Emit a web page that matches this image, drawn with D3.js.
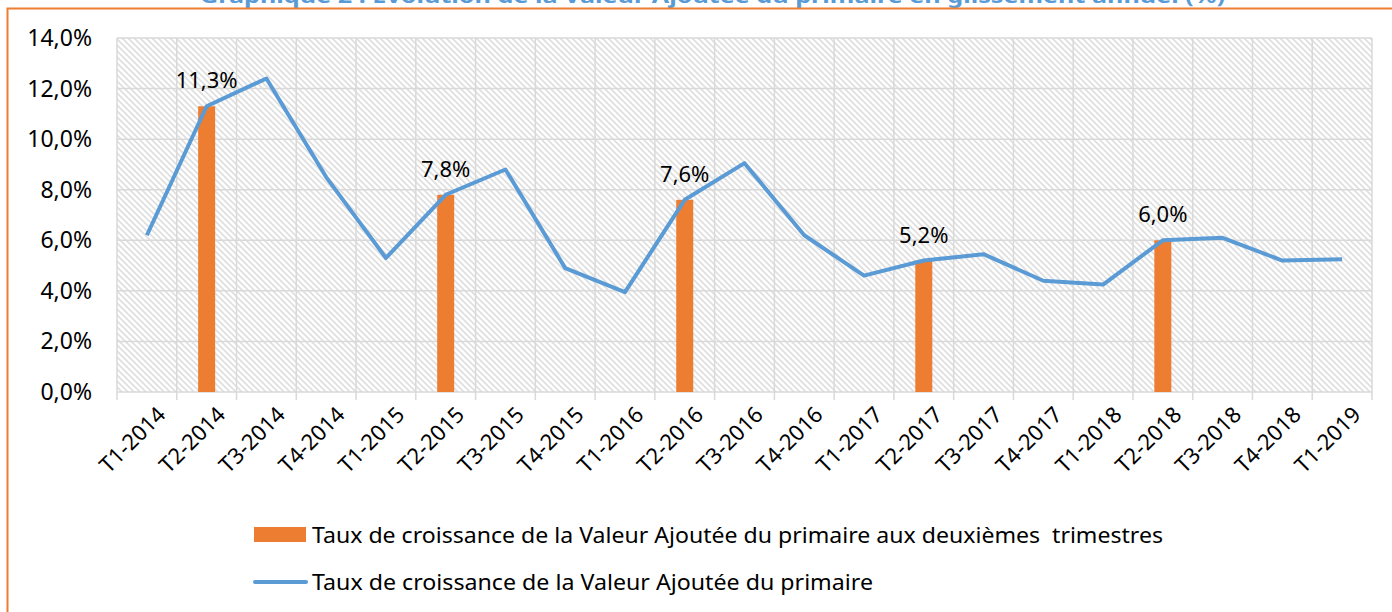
<!DOCTYPE html>
<html>
<head>
<meta charset="utf-8">
<script src="https://cdn.jsdelivr.net/npm/d3@7"></script>
<style>
  body { margin: 0; background: #fff; }
  svg { display: block; font-family: "Noto Sans", "DejaVu Sans", sans-serif; }
</style>
</head>
<body>
<script>
// Define data
const quarters = ['T1-2014', 'T2-2014', 'T3-2014', 'T4-2014', 'T1-2015', 'T2-2015', 'T3-2015',
  'T4-2015', 'T1-2016', 'T2-2016', 'T3-2016', 'T4-2016', 'T1-2017', 'T2-2017', 'T3-2017',
  'T4-2017', 'T1-2018', 'T2-2018', 'T3-2018', 'T4-2018', 'T1-2019'];
const growth = [6.2, 11.3, 12.4, 8.5, 5.3, 7.8, 8.8, 4.9, 3.95, 7.6, 9.05, 6.2, 4.6, 5.2, 5.45,
  4.4, 4.25, 6.0, 6.1, 5.2, 5.25];
const q2Quarters = ['T2-2014', 'T2-2015', 'T2-2016', 'T2-2017', 'T2-2018'];
const q2Growth = [11.3, 7.8, 7.6, 5.2, 6.0];
const yTicks = [0, 2, 4, 6, 8, 10, 12, 14];

const title = 'Graphique 2 : Evolution de la Valeur Ajoutée du primaire en glissement annuel (%)';
const legendBar = 'Taux de croissance de la Valeur Ajoutée du primaire aux deuxièmes\u00a0 trimestres';
const legendLine = 'Taux de croissance de la Valeur Ajoutée du primaire';

const width = 1392, height = 612;
const margin = { top: 38, bottom: 220, left: 117, right: 20 };
const fs = 22;

const svg = d3.select('body')
            .append('svg')
            .attr('width', width)
            .attr('height', height);

// hatched plot background
const pattern = svg.append('defs').append('pattern')
            .attr('id', 'hatch')
            .attr('patternUnits', 'userSpaceOnUse')
            .attr('width', 6)
            .attr('height', 6);
pattern.append('path')
            .attr('d', 'M-1,-1 L7,7 M-4,2 L2,8 M4,-2 L8,2')
            .attr('stroke', '#dedede')
            .attr('stroke-width', 1.6);

// frame border (orange) and the title above it, cut by the page top as in the source
svg.append('text')
            .text(title)
            .attr('x', 200)
            .attr('y', 3)
            .attr('textLength', 1025)
            .attr('lengthAdjust', 'spacingAndGlyphs')
            .attr('font-size', 20)
            .attr('font-weight', 'bold')
            .attr('fill', '#5b9bd5');
svg.append('path')
            .attr('d', `M7.5,${height + 5} L7.5,8.5 L${width + 5},8.5`)
            .attr('fill', 'none')
            .attr('stroke', '#ed7d31')
            .attr('stroke-width', 2);

const xscale = d3.scaleBand()
            .domain(quarters)
            .range([margin.left, width - margin.right]);
const yscale = d3.scaleLinear()
            .domain([0, 14])
            .range([392, margin.top]);

svg.append('rect')
            .attr('x', margin.left)
            .attr('y', margin.top)
            .attr('width', xscale.range()[1] - margin.left)
            .attr('height', yscale(0) - margin.top)
            .attr('fill', 'url(#hatch)');

// gridlines
svg.append('g')
            .selectAll('line')
            .data(yTicks)
            .enter()
            .append('line')
            .attr('x1', margin.left)
            .attr('x2', xscale.range()[1])
            .attr('y1', d => yscale(d))
            .attr('y2', d => yscale(d))
            .attr('stroke', '#d9d9d9')
            .attr('stroke-width', 1.5);

const bounds = quarters.map(q => xscale(q)).concat([xscale.range()[1]]);
svg.append('g')
            .selectAll('line')
            .data(bounds)
            .enter()
            .append('line')
            .attr('x1', d => d)
            .attr('x2', d => d)
            .attr('y1', margin.top)
            .attr('y2', yscale(0) + 8)
            .attr('stroke', '#d9d9d9')
            .attr('stroke-width', 1.5);

// y-axis labels
svg.append('g')
            .selectAll('text')
            .data(yTicks)
            .enter()
            .append('text')
            .text(d => d.toFixed(1).replace('.', ',') + '%')
            .attr('x', 92)
            .attr('y', d => yscale(d) + 8)
            .attr('text-anchor', 'end')
            .attr('font-size', 23)
            .attr('fill', '#000');

// x-axis labels, rotated
svg.append('g')
            .selectAll('text')
            .data(quarters)
            .enter()
            .append('text')
            .text(d => d)
            .attr('text-anchor', 'end')
            .attr('font-size', fs)
            .attr('transform', d => `translate(${xscale(d) + xscale.bandwidth() / 2 + 20}, 416) rotate(-45)`);

// bars
const barW = 17;
svg.append('g')
            .selectAll('rect')
            .data(q2Quarters)
            .enter()
            .append('rect')
            .attr('x', d => xscale(d) + xscale.bandwidth() / 2 - barW / 2)
            .attr('y', (d, i) => yscale(q2Growth[i]))
            .attr('width', barW)
            .attr('height', (d, i) => yscale(0) - yscale(q2Growth[i]))
            .attr('fill', '#ed7d31');

// line
const line = d3.line()
            .x((d, i) => xscale(quarters[i]) + xscale.bandwidth() / 2)
            .y(d => yscale(d));
svg.append('path')
            .datum(growth)
            .attr('d', line)
            .attr('fill', 'none')
            .attr('stroke', '#5b9bd5')
            .attr('stroke-width', 4)
            .attr('stroke-linejoin', 'round');

// data labels
svg.append('g')
            .selectAll('text')
            .data(q2Quarters)
            .enter()
            .append('text')
            .text((d, i) => q2Growth[i].toFixed(1).replace('.', ',') + '%')
            .attr('x', d => xscale(d) + xscale.bandwidth() / 2)
            .attr('y', (d, i) => yscale(q2Growth[i]) - 18)
            .attr('text-anchor', 'middle')
            .attr('font-size', fs);

// legend
const legend = svg.append('g');
legend.append('rect')
            .attr('x', 254)
            .attr('y', 527)
            .attr('width', 52)
            .attr('height', 15)
            .attr('fill', '#ed7d31');
legend.append('text')
            .text(legendBar)
            .attr('x', 312)
            .attr('y', 543)
            .attr('textLength', 851)
            .attr('lengthAdjust', 'spacingAndGlyphs')
            .attr('font-size', fs);
legend.append('line')
            .attr('x1', 255)
            .attr('x2', 306)
            .attr('y1', 582)
            .attr('y2', 582)
            .attr('stroke', '#5b9bd5')
            .attr('stroke-width', 4)
            .attr('stroke-linecap', 'round');
legend.append('text')
            .text(legendLine)
            .attr('x', 312)
            .attr('y', 590)
            .attr('textLength', 561)
            .attr('lengthAdjust', 'spacingAndGlyphs')
            .attr('font-size', fs);
</script>
</body>
</html>
